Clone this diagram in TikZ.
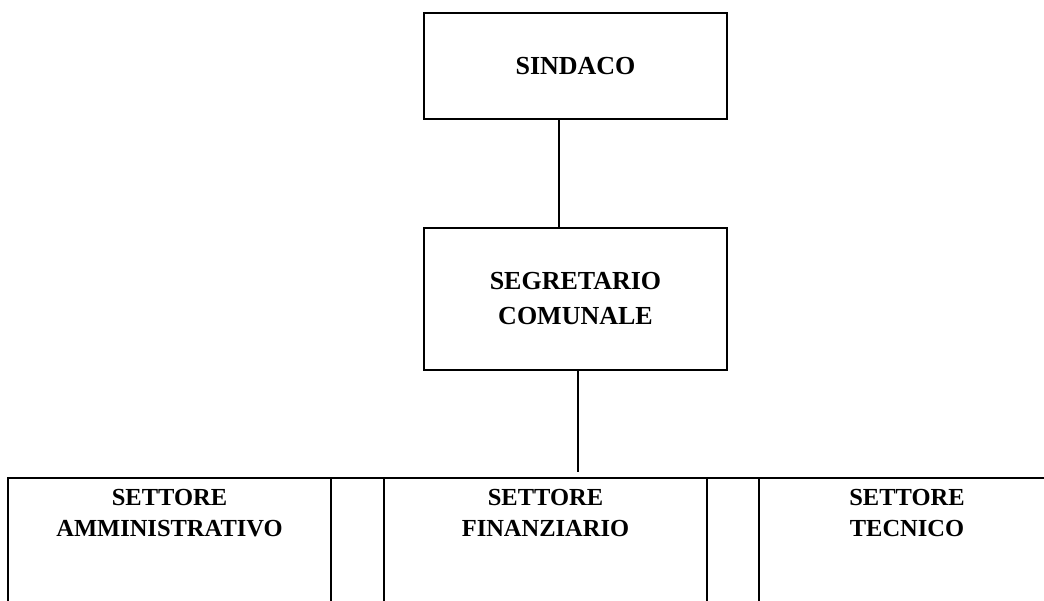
\documentclass[tikz,border=0pt]{standalone}
\usepackage{fontspec}
\setmainfont{Liberation Serif}
\begin{document}
\begin{tikzpicture}[x=1pt,y=-1pt,
  box/.style={draw, line width=2.5pt, minimum width=303pt, align=center,
    font=\fontsize{26}{35}\selectfont\bfseries, inner sep=0pt},
  conn/.style={line width=1.9pt},
  celltext/.style={align=center, font=\fontsize{24.5}{31.5}\selectfont\bfseries, inner sep=0pt},
  gridline/.style={line width=2.5pt}]
\useasboundingbox (0,0) rectangle (1044,600);
\clip (0,0) rectangle (1044,600);
\node[box, minimum height=106pt] (sindaco) at (575.5,66) {SINDACO};
\node[box, minimum height=142pt] (segr) at (575.5,299) {SEGRETARIO\\COMUNALE};
\draw[conn] ([xshift=-16.5pt]sindaco.south) -- ([xshift=-16.5pt]segr.north);
% bottom row of cells
\draw[gridline] (8,640) -- (8,478) -- (1070,478);
\draw[gridline] (331,478) -- (331,640);
\draw[gridline] (384,478) -- (384,640);
\draw[gridline] (707,478) -- (707,640);
\draw[gridline] (759,478) -- (759,640);
\coordinate (drop) at (578,472);
\draw[conn] ([xshift=2.5pt]segr.south) -- (drop);
\node[celltext] (amm) at (169.5,513) {SETTORE\\AMMINISTRATIVO};
\node[celltext] (fin) at (545.5,513) {SETTORE\\FINANZIARIO};
\node[celltext] (tec) at (907,513) {SETTORE\\TECNICO};
\end{tikzpicture}
\end{document}
